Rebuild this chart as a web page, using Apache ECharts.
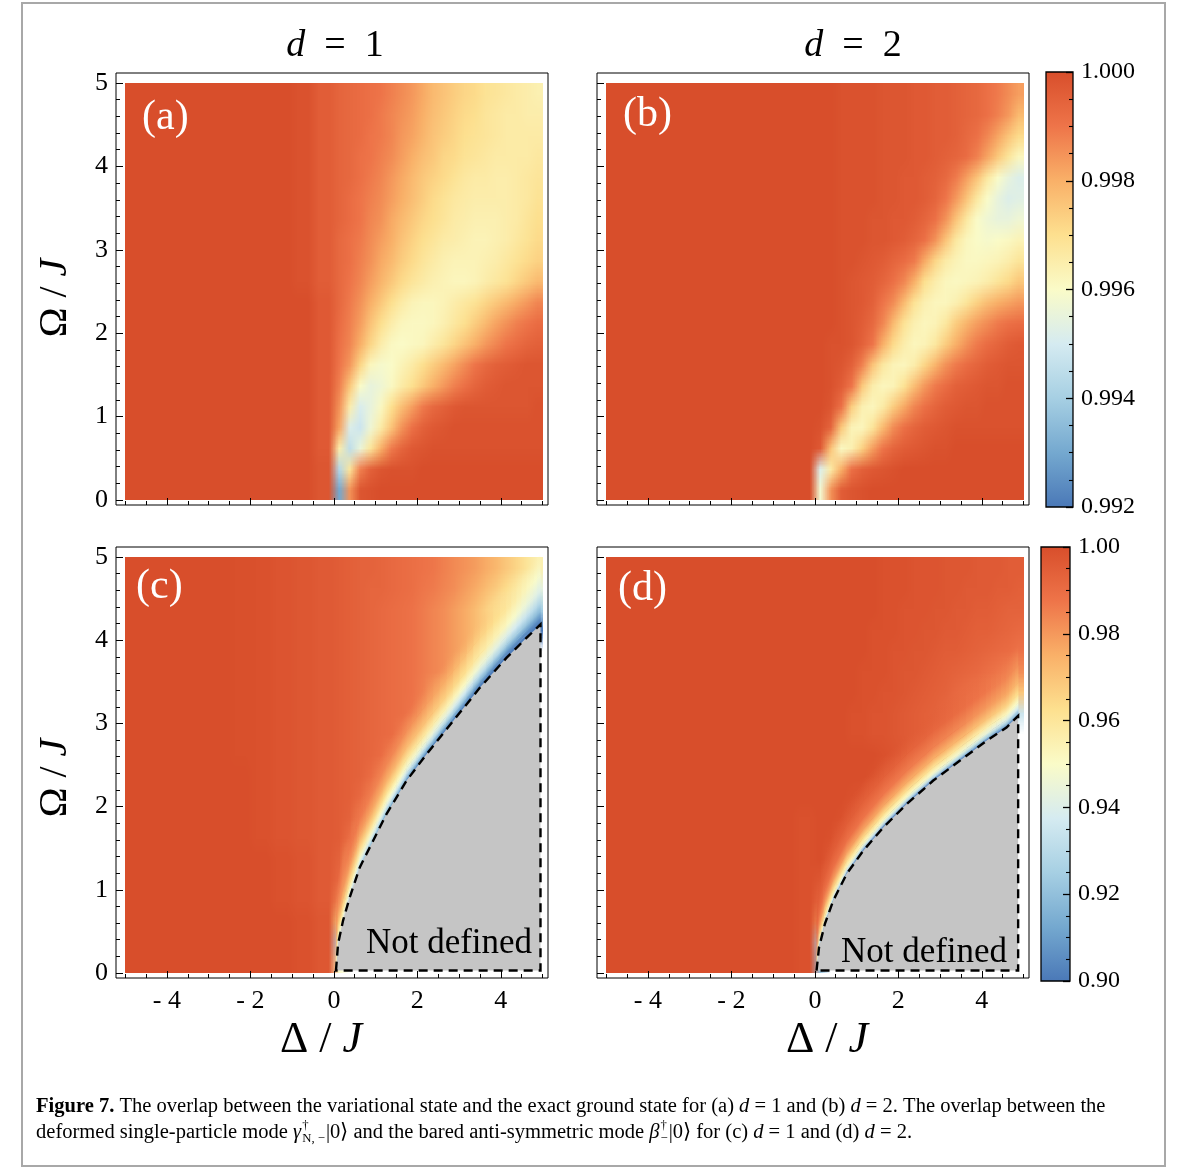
<!DOCTYPE html>
<html>
<head>
<meta charset="utf-8">
<script src="https://cdn.jsdelivr.net/npm/echarts@6/dist/echarts.min.js"></script>
<style>
html,body{margin:0;padding:0;background:#fff;}
#chart{width:1182px;height:1169px;}
</style>
</head>
<body>
<div id="chart"></div>
<script>
// ---------------- data ----------------
const xRange = [-5.22, 5.13];
const yRange = [-0.06, 5.12];
const xMajorTicks = [-4, -2, 0, 2, 4];
const xMinorTicks = [-5, -4.5, -3.5, -3, -2.5, -1.5, -1, -0.5, 0.5, 1, 1.5, 2.5, 3, 3.5, 4.5, 5];
const yMajorTicks = [0, 1, 2, 3, 4, 5];
const yMinorTicks = [0.2, 0.4, 0.6, 0.8, 1.2, 1.4, 1.6, 1.8, 2.2, 2.4, 2.6, 2.8, 3.2, 3.4, 3.6, 3.8, 4.2, 4.4, 4.6, 4.8];
const barTopRange = [0.992, 1.0];
const barTopMajor = [0.992, 0.994, 0.996, 0.998, 1.0];
const barTopMinor = [0.9925, 0.993, 0.9935, 0.9945, 0.995, 0.9955, 0.9965, 0.997, 0.9975, 0.9985, 0.999, 0.9995];
const barBotRange = [0.90, 1.0];
const barBotMajor = [0.90, 0.92, 0.94, 0.96, 0.98, 1.0];
const barBotMinor = [0.905, 0.91, 0.915, 0.925, 0.93, 0.935, 0.945, 0.95, 0.955, 0.965, 0.97, 0.975, 0.985, 0.99, 0.995];

// cell edges: Delta/J (left to right), Omega/J (top to bottom)
const deltaEdges = [-5, -4.5, -4, -3.5, -3, -2.5, -2, -1.5, -1, -0.5, 0, 0.25, 0.5, 0.75, 1, 1.25, 1.5, 1.75, 2, 2.25, 2.5, 2.75, 3, 3.25, 3.5, 3.75, 4, 4.25, 4.5, 4.75, 5];
const omegaEdges = [5, 4.75, 4.5, 4.25, 4, 3.75, 3.5, 3.25, 3, 2.75, 2.5, 2.25, 2, 1.75, 1.5, 1.25, 1, 0.75, 0.5, 0.25, 0];

// (a) overlap, d = 1  (rows top -> bottom)
const overlapA = [
[1,1,1,1,1,1,1,1,.9999,.9996, .9994,.9993,.9992,.9991,.999,.9988,.9986,.9984,.9981,.9978,.9976,.9974,.9972,.9971,.9969,.9968,.9967,.9966,.9965,.9964],
[1,1,1,1,1,1,1,1,.9999,.9996, .9994,.9993,.9992,.9991,.9989,.9987,.9985,.9983,.998,.9977,.9975,.9973,.9971,.997,.9968,.9967,.9966,.9966,.9965,.9965],
[1,1,1,1,1,1,1,1,.9999,.9996, .9994,.9993,.9992,.999,.9989,.9987,.9984,.9982,.9979,.9976,.9974,.9972,.997,.9969,.9968,.9967,.9966,.9966,.9966,.9966],
[1,1,1,1,1,1,1,1,.9999,.9996, .9994,.9993,.9991,.999,.9988,.9986,.9983,.998,.9977,.9975,.9972,.9971,.9969,.9968,.9967,.9966,.9966,.9966,.9966,.9967],
[1,1,1,1,1,1,1,1,.9999,.9996, .9994,.9993,.9991,.9989,.9987,.9984,.9981,.9978,.9975,.9973,.9971,.9969,.9967,.9966,.9966,.9965,.9965,.9966,.9967,.9968],
[1,1,1,1,1,1,1,1,.9999,.9996, .9994,.9992,.999,.9988,.9986,.9983,.998,.9977,.9974,.9971,.9969,.9967,.9966,.9965,.9965,.9965,.9965,.9966,.9967,.9969],
[1,1,1,1,1,1,1,1,.9999,.9996, .9994,.9992,.999,.9987,.9985,.9981,.9978,.9975,.9972,.997,.9968,.9966,.9965,.9964,.9964,.9964,.9965,.9966,.9968,.997],
[1,1,1,1,1,1,1,1,.9999,.9996, .9993,.9991,.9989,.9986,.9983,.998,.9976,.9973,.997,.9968,.9966,.9965,.9964,.9963,.9963,.9964,.9965,.9967,.9969,.9971],
[1,1,1,1,1,1,1,1,.9999,.9996, .9993,.9991,.9988,.9985,.9981,.9978,.9974,.9971,.9968,.9966,.9964,.9963,.9963,.9963,.9964,.9965,.9967,.9969,.9971,.9973],
[1,1,1,1,1,1,1,1,.9999,.9996, .9993,.999,.9987,.9983,.9979,.9975,.9971,.9968,.9966,.9964,.9963,.9962,.9962,.9963,.9965,.9967,.9969,.9972,.9975,.9978],
[1,1,1,1,1,1,1,1,1,.9997, .9993,.9989,.9985,.998,.9975,.997,.9966,.9963,.9962,.9962,.9963,.9965,.9967,.9969,.9972,.9975,.9978,.9981,.9984,.9987],
[1,1,1,1,1,1,1,1,1,.9997, .9992,.9988,.9983,.9976,.997,.9965,.9962,.9961,.9961,.9962,.9964,.9967,.997,.9974,.9978,.9982,.9985,.9988,.999,.9992],
[1,1,1,1,1,1,1,1,1,.9997, .9991,.9987,.998,.9972,.9965,.9961,.996,.9961,.9962,.9965,.9968,.9972,.9976,.998,.9984,.9987,.999,.9992,.9994,.9995],
[1,1,1,1,1,1,1,1,1,.9997, .999,.9984,.9972,.9962,.9959,.996,.9963,.9966,.997,.9974,.9978,.9982,.9986,.999,.9993,.9995,.9996,.9997,.9998,.9998],
[1,1,1,1,1,1,1,1,1,.9997, .9988,.9975,.996,.9955,.9957,.9961,.9966,.997,.9975,.998,.9984,.9988,.9991,.9994,.9996,.9997,.9998,.9998,.9998,.9998],
[1,1,1,1,1,1,1,1,1,.9997, .9985,.9965,.9951,.9955,.9961,.997,.9977,.9983,.9989,.9993,.9995,.9997,.9998,.9998,.9998,.9998,.9998,.9998,.9998,.9999],
[1,1,1,1,1,1,1,1,1,.9997, .9982,.9952,.9948,.9957,.9966,.9976,.9985,.9991,.9995,.9997,.9998,.9999,.9999,.9999,.9999,.9999,.9999,.9999,.9999,.9999],
[1,1,1,1,1,1,1,1,1,.9997, .9965,.9945,.9956,.9968,.998,.9989,.9994,.9997,.9998,.9999,.9999,.9999,.9999,.9999,.9999,.9999,.9999,.9999,.9999,.9999],
[1,1,1,1,1,1,1,1,1,.9998, .9943,.9968,.9988,.9995,.9998,.9999,.9999,.9999,1,1,1,1,1,1,1,1,1,1,1,1],
[1,1,1,1,1,1,1,1,1,.9998, .993,.9985,.9998,.9999,1,1,1,1,1,1,1,1,1,1,1,1,1,1,1,1]
];

// (b) overlap, d = 2
const overlapB = [
[1,1,1,1,1,1,1,1,1,1, 1,1,.9999,.9999,.9999,.9999,.9998,.9998,.9998,.9997,.9997,.9996,.9996,.9995,.9994,.9993,.9991,.9989,.9986,.9983],
[1,1,1,1,1,1,1,1,1,1, 1,1,.9999,.9999,.9999,.9999,.9998,.9998,.9998,.9997,.9997,.9996,.9996,.9995,.9994,.9993,.9991,.9988,.9984,.9978],
[1,1,1,1,1,1,1,1,1,1, 1,1,.9999,.9999,.9999,.9999,.9998,.9998,.9998,.9997,.9997,.9996,.9996,.9995,.9993,.9991,.9987,.9982,.9976,.9971],
[1,1,1,1,1,1,1,1,1,1, 1,1,.9999,.9999,.9999,.9999,.9998,.9998,.9998,.9997,.9997,.9996,.9995,.9994,.9992,.9988,.9982,.9975,.9968,.9962],
[1,1,1,1,1,1,1,1,1,1, 1,1,.9999,.9999,.9999,.9999,.9998,.9998,.9997,.9997,.9996,.9995,.9993,.9989,.9983,.9976,.9967,.996,.9955,.9952],
[1,1,1,1,1,1,1,1,1,1, 1,1,.9999,.9999,.9999,.9999,.9998,.9998,.9997,.9997,.9996,.9994,.999,.9984,.9976,.9967,.996,.9955,.9952,.9953],
[1,1,1,1,1,1,1,1,1,1, 1,1,.9999,.9999,.9999,.9998,.9998,.9997,.9997,.9996,.9994,.9991,.9985,.9976,.9967,.996,.9957,.9955,.9955,.9957],
[1,1,1,1,1,1,1,1,1,1, 1,1,.9999,.9999,.9999,.9998,.9998,.9997,.9996,.9994,.9991,.9985,.9976,.9967,.9962,.996,.9959,.996,.9961,.9963],
[1,1,1,1,1,1,1,1,1,1, 1,1,.9999,.9999,.9998,.9997,.9996,.9994,.9992,.9989,.9981,.9972,.9966,.9963,.9961,.9961,.9962,.9963,.9965,.9968],
[1,1,1,1,1,1,1,1,1,1, 1,1,.9999,.9998,.9997,.9996,.9994,.9991,.9987,.998,.997,.9965,.9962,.9961,.9962,.9963,.9965,.9968,.9971,.9975],
[1,1,1,1,1,1,1,1,1,1, 1,1,.9999,.9998,.9997,.9995,.999,.9986,.9978,.9969,.9964,.9962,.9962,.9964,.9968,.9973,.9977,.998,.9982,.9984],
[1,1,1,1,1,1,1,1,1,1, 1,1,.9999,.9998,.9996,.9993,.9987,.9978,.9969,.9964,.9962,.9963,.9967,.9974,.9979,.9983,.9986,.9989,.9991,.9992],
[1,1,1,1,1,1,1,1,1,1, 1,.9999,.9999,.9998,.9995,.999,.998,.9971,.9965,.9962,.9963,.9967,.9974,.998,.9985,.9989,.9992,.9994,.9996,.9997],
[1,1,1,1,1,1,1,1,1,1, 1,.9999,.9998,.9995,.9988,.9976,.9967,.9963,.9962,.9965,.9972,.9979,.9985,.9989,.9992,.9994,.9996,.9997,.9998,.9998],
[1,1,1,1,1,1,1,1,1,1, 1,.9999,.9996,.999,.9975,.9965,.9962,.9963,.9969,.9977,.9984,.9989,.9992,.9995,.9996,.9997,.9998,.9998,.9999,.9999],
[1,1,1,1,1,1,1,1,1,1, 1,.9998,.9991,.9974,.9964,.9962,.9966,.9974,.9981,.9987,.9991,.9994,.9996,.9997,.9998,.9998,.9999,.9999,.9999,.9999],
[1,1,1,1,1,1,1,1,1,1, .9999,.9994,.9975,.9963,.9962,.9968,.9978,.9986,.9991,.9994,.9996,.9997,.9998,.9999,.9999,.9999,.9999,.9999,.9999,.9999],
[1,1,1,1,1,1,1,1,1,1, .9997,.9976,.9961,.9964,.9973,.9983,.999,.9994,.9996,.9997,.9998,.9999,.9999,1,1,1,1,1,1,1],
[1,1,1,1,1,1,1,1,1,1, .9952,.9966,.998,.9991,.9995,.9997,.9998,.9999,1,1,1,1,1,1,1,1,1,1,1,1],
[1,1,1,1,1,1,1,1,1,1, .9958,.9985,.9996,.9998,.9999,1,1,1,1,1,1,1,1,1,1,1,1,1,1,1]
];

// (c) overlap, d = 1 (each row stops where the "Not defined" region begins)
const overlapC = [
[1,1,1,1,1,.9995,.999,.998,.997,.996, .995,.994,.993,.993,.992,.991,.99,.989,.988,.987,.985,.983,.981,.979,.976,.973,.969,.965,.96,.955],
[1,1,1,1,1,.9995,.999,.998,.997,.996, .995,.994,.993,.992,.992,.991,.99,.989,.987,.986,.984,.982,.979,.976,.972,.968,.963,.957,.95,.943],
[1,1,1,1,1,.9995,.999,.998,.997,.996, .995,.994,.993,.992,.991,.99,.989,.988,.986,.984,.982,.979,.976,.972,.967,.961,.954,.946,.936,.925],
[1,1,1,1,1,.9995,.999,.998,.997,.996, .995,.994,.993,.992,.991,.99,.989,.988,.986,.984,.982,.979,.976,.972,.967,.961,.954,.941,.914,.90],
[1,1,1,1,1,.9995,.999,.998,.997,.996, .995,.994,.993,.992,.991,.99,.989,.988,.986,.984,.982,.979,.976,.972,.961,.944,.912,.90],
[1,1,1,1,1,.9995,.999,.998,.997,.996, .995,.994,.993,.992,.991,.99,.989,.988,.986,.984,.982,.977,.965,.95,.923,.90],
[1,1,1,1,1,.9995,.999,.998,.997,.996, .995,.994,.993,.992,.991,.99,.989,.988,.985,.979,.9725,.956,.935,.903,.90],
[1,1,1,1,1,.9995,.999,.998,.997,.996, .995,.994,.993,.992,.991,.99,.989,.987,.982,.974,.96,.933,.90],
[1,1,1,1,1,.9995,.999,.998,.997,.996, .995,.994,.993,.992,.991,.99,.986,.978,.966,.945,.90,.90],
[1,1,1,1,1,.9995,.999,.998,.997,.996, .995,.994,.993,.992,.99,.985,.975,.957,.918,.90],
[1,1,1,1,1,1,.999,.998,.997,.996, .995,.994,.993,.99,.984,.971,.948,.90,.90],
[1,1,1,1,1,1,.999,.998,.997,.996, .995,.994,.991,.985,.97,.944,.91],
[1,1,1,1,1,1,.999,.998,.997,.996, .995,.993,.985,.97,.941,.91],
[1,1,1,1,1,1,.999,.998,.997,.996, .995,.989,.97,.941,.91],
[1,1,1,1,1,1,1,.999,.998,.996, .993,.979,.941,.91],
[1,1,1,1,1,1,1,.999,.998,.996, .991,.969,.93],
[1,1,1,1,1,1,1,.999,.998,.996, .984,.93],
[1,1,1,1,1,1,1,1,.999,.997, .968],
[1,1,1,1,1,1,1,1,.999,.997, .93],
[1,1,1,1,1,1,1,1,.999,.997, .95]
];

// (d) overlap, d = 2
const overlapD = [
[1,1,1,1,1,1,1,1,1,1, 1,1,1,1,1,1,.999,.999,.999,.998,.998,.998,.997,.997,.997,.996,.996,.996,.995,.995],
[1,1,1,1,1,1,1,1,1,1, 1,1,1,1,1,1,.999,.999,.999,.998,.998,.998,.997,.997,.996,.996,.996,.995,.995,.994],
[1,1,1,1,1,1,1,1,1,1, 1,1,1,1,1,1,.999,.999,.998,.998,.998,.997,.997,.996,.996,.995,.995,.994,.993,.993],
[1,1,1,1,1,1,1,1,1,1, 1,1,1,1,1,.999,.999,.999,.998,.998,.997,.997,.996,.996,.995,.994,.994,.993,.992,.991],
[1,1,1,1,1,1,1,1,1,1, 1,1,1,1,1,.999,.999,.998,.998,.997,.997,.996,.995,.995,.994,.993,.992,.991,.99,.988],
[1,1,1,1,1,1,1,1,1,1, 1,1,1,1,.999,.999,.999,.998,.997,.997,.996,.995,.994,.993,.992,.991,.989,.987,.985,.982],
[1,1,1,1,1,1,1,1,1,1, 1,1,1,1,.999,.999,.998,.998,.997,.996,.995,.994,.993,.991,.989,.987,.984,.98,.975,.969],
[1,1,1,1,1,1,1,1,1,1, 1,1,1,.999,.999,.998,.998,.997,.996,.995,.994,.993,.991,.989,.986,.982,.976,.968,.955,.935],
[1,1,1,1,1,1,1,1,1,1, 1,1,1,.999,.999,.998,.998,.997,.996,.995,.994,.993,.991,.988,.982,.9715,.954,.90,.90],
[1,1,1,1,1,1,1,1,1,1, 1,1,1,1,1,1,.999,.998,.997,.994,.9905,.985,.976,.959,.917,.90,.90],
[1,1,1,1,1,1,1,1,1,1, 1,1,1,1,1,.999,.997,.994,.989,.982,.968,.941,.90,.90,.90],
[1,1,1,1,1,1,1,1,1,1, 1,1,1,.999,.998,.994,.989,.981,.963,.917,.90,.90],
[1,1,1,1,1,1,1,1,1,.999, 1,1,.999,.996,.991,.983,.964,.908,.90,.90],
[1,1,1,1,1,1,1,1,1,.999, 1,.999,.995,.988,.973,.93,.90,.90],
[1,1,1,1,1,1,1,1,1,.999, 1,.996,.986,.958,.90,.90],
[1,1,1,1,1,1,1,1,1,.999, .997,.986,.952,.92],
[1,1,1,1,1,1,1,1,1,.999, .992,.957,.92],
[1,1,1,1,1,1,1,1,1,.999, .981,.92],
[1,1,1,1,1,1,1,1,1,.999, .927],
[1,1,1,1,1,1,1,1,1,.999, .92]
];

// boundary of the "Not defined" region [Delta/J, Omega/J]
const boundaryC = [[0.05,0.03],[0.1,0.35],[0.22,0.63],[0.38,0.91],[0.62,1.27],[0.94,1.59],[1.26,1.91],[1.74,2.31],[2.22,2.63],[2.86,3.03],[3.5,3.43],[4.14,3.79],[4.62,4.03],[4.95,4.19]];
const cornerC = [4.95, 0.03];
const boundaryD = [[0.04,0.03],[0.1,0.31],[0.24,0.59],[0.44,0.87],[0.76,1.19],[1.16,1.47],[1.64,1.75],[2.2,2.03],[2.83,2.31],[3.47,2.55],[4.11,2.79],[4.59,2.95],[4.87,3.09]];
const cornerD = [4.87, 0.03];

// overlap just above the boundary: height above the boundary (Omega/J) ...
const bandOffsets = [0, 0.04, 0.09, 0.16, 0.26, 0.4, 0.6, 0.85];
// ... and the overlap read there, one row per boundary point
const bandC = [
[.95,.955,.96,.966,.972,.978,.982,.984],
[.94,.948,.955,.963,.972,.98,.986,.99],
[.935,.945,.953,.962,.972,.98,.985,.988],
[.93,.94,.95,.96,.97,.981,.987,.991],
[.925,.935,.946,.957,.968,.979,.987,.991],
[.915,.93,.942,.954,.966,.977,.985,.99],
[.91,.925,.94,.951,.963,.975,.984,.988],
[.905,.92,.935,.948,.96,.972,.982,.987],
[.90,.915,.932,.946,.958,.97,.979,.984],
[.90,.91,.925,.94,.953,.965,.974,.979],
[.90,.905,.918,.932,.946,.958,.966,.971],
[.90,.903,.912,.926,.94,.952,.96,.965],
[.90,.902,.91,.922,.934,.945,.953,.958],
[.90,.902,.908,.918,.928,.94,.948,.953]
];
const bandD = [
[.93,.95,.962,.972,.983,.99,.995,.998],
[.92,.945,.958,.969,.981,.99,.995,.998],
[.915,.94,.956,.967,.98,.989,.995,.998],
[.91,.937,.955,.966,.98,.989,.995,.998],
[.905,.935,.953,.965,.979,.989,.995,.998],
[.90,.933,.952,.964,.978,.988,.994,.997],
[.90,.932,.951,.963,.977,.987,.994,.997],
[.90,.93,.95,.962,.976,.986,.993,.996],
[.90,.93,.949,.961,.975,.985,.992,.995],
[.90,.928,.947,.959,.973,.983,.99,.993],
[.90,.925,.944,.956,.97,.98,.987,.991],
[.90,.922,.94,.952,.966,.977,.984,.988],
[.90,.92,.937,.949,.962,.973,.981,.985]
];

// ---------------- styling ----------------
const cmapColors = ['#4a78b7','#74a8cf','#a6cfe3','#d5ebf1','#fafbc8','#fde08f','#f9b068','#ee7449','#d84e2b'];
const FONT = 'Liberation Serif';
const INK = '#000';

function colorOf(v, range) {
  const t = Math.max(0, Math.min(1, (v - range[0]) / (range[1] - range[0])));
  return echarts.color.lerp(t, cmapColors);
}

function toCells(vals) {
  const out = [];
  for (let r = 0; r < vals.length; r++) {
    for (let c = 0; c < vals[r].length; c++) {
      const v = vals[r][c];
      if (v === null || v === undefined) continue;
      out.push([deltaEdges[c], deltaEdges[c + 1], omegaEdges[r + 1], omegaEdges[r], v]);
    }
  }
  return out;
}

// Density-plot style rendering: one source pixel per finest grid step; the
// browser's image smoothing shades between the sampled cells (as a DensityPlot does).
function fieldCanvas(vals, range) {
  const step = 0.25;
  const x0 = deltaEdges[0];
  const W = Math.round((deltaEdges[deltaEdges.length - 1] - x0) / step);
  const H = omegaEdges.length - 1;
  const cw = W + 2, ch = H + 2;
  const cv = document.createElement('canvas');
  cv.width = cw; cv.height = ch;
  const ctx = cv.getContext('2d');
  const img = ctx.createImageData(cw, ch);
  const d = img.data;
  const put = (px, py, c) => { const k = 4 * (py * cw + px); d[k] = c[0]; d[k + 1] = c[1]; d[k + 2] = c[2]; d[k + 3] = 255; };
  const copy = (sx, sy, tx, ty) => { const a = 4 * (sy * cw + sx), b = 4 * (ty * cw + tx); for (let j = 0; j < 4; j++) d[b + j] = d[a + j]; };
  for (let r = 0; r < H; r++) {
    for (let c = 0; c < deltaEdges.length - 1; c++) {
      const v = vals[r][c];
      if (v === null || v === undefined) continue;          // not defined: left transparent
      const col = echarts.color.parse(colorOf(v, range));
      const p0 = Math.round((deltaEdges[c] - x0) / step), p1 = Math.round((deltaEdges[c + 1] - x0) / step);
      for (let p = p0; p < p1; p++) put(p + 1, r + 1, col);
    }
  }
  for (let py = 1; py <= H; py++) { copy(1, py, 0, py); copy(W, py, W + 1, py); }
  for (let px = 0; px < cw; px++) { copy(px, 1, px, 0); copy(px, H, px, H + 1); }
  ctx.putImageData(img, 0, 0);
  return { canvas: cv, W: W, H: H };
}

function fieldRenderer(vals, range) {
  const f = fieldCanvas(vals, range);
  return function (params, api) {
    if (params.dataIndex !== 0) return;
    const tl = api.coord([deltaEdges[0], omegaEdges[0]]);
    const br = api.coord([deltaEdges[deltaEdges.length - 1], omegaEdges[omegaEdges.length - 1]]);
    return {
      type: 'image',
      style: { image: f.canvas, x: tl[0], y: tl[1], width: br[0] - tl[0], height: br[1] - tl[1], sx: 1, sy: 1, sWidth: f.W, sHeight: f.H }
    };
  };
}

// strip of low overlap hugging the boundary, one item per boundary segment;
// each piece is shaded across its width (perpendicular to the boundary segment)
const SUB = 4;
function bandRenderer(curve, band, range) {
  return function (params, api) {
    const i = params.dataIndex;
    if (i >= curve.length - 1) return;
    const kids = [];
    const last = bandOffsets.length - 2;
    const P = s => [curve[i][0] + s * (curve[i + 1][0] - curve[i][0]), curve[i][1] + s * (curve[i + 1][1] - curve[i][1])];
    const V = (s, j) => band[i][j] + s * (band[i + 1][j] - band[i][j]);
    for (let k = 0; k < SUB; k++) {
      const s0 = k / SUB, s1 = (k + 1) / SUB, sm = (s0 + s1) / 2;
      const q0 = P(s0), q1 = P(s1);
      for (let j = 0; j <= last; j++) {
        const a0 = api.coord([q0[0], q0[1] + bandOffsets[j]]);
        const b0 = api.coord([q1[0], q1[1] + bandOffsets[j]]);
        const b1 = api.coord([q1[0], q1[1] + bandOffsets[j + 1]]);
        const a1 = api.coord([q0[0], q0[1] + bandOffsets[j + 1]]);
        const cIn = colorOf(V(sm, j), range);
        let cOut = colorOf(V(sm, j + 1), range);
        if (j === last) cOut = echarts.color.modifyAlpha(cOut, 0);
        const ex = b0[0] - a0[0], ey = b0[1] - a0[1];
        const el = Math.hypot(ex, ey) || 1;
        const ux = ex / el, uy = ey / el;
        const vx = a1[0] - a0[0], vy = a1[1] - a0[1];
        const dot = vx * ux + vy * uy;
        const gx = vx - dot * ux, gy = vy - dot * uy;
        const g = new echarts.graphic.LinearGradient(
          a0[0], a0[1], a0[0] + gx, a0[1] + gy,
          [{ offset: 0, color: cIn }, { offset: 1, color: cOut }], true);
        const pad = j === last ? 0 : 0.3;
        kids.push({
          type: 'polygon',
          shape: { points: [[a0[0] - pad * ux, a0[1] - pad * uy], [b0[0] + pad * ux, b0[1] + pad * uy], [b1[0] + pad * ux, b1[1] + pad * uy], [a1[0] - pad * ux, a1[1] - pad * uy]] },
          style: { fill: g }
        });
      }
    }
    return { type: 'group', children: kids };
  };
}

function polyRenderer(curve, corner) {
  return function (params, api) {
    if (params.dataIndex !== 0) return;
    const pts = curve.concat([corner, [curve[0][0], corner[1]]]).map(p => api.coord(p));
    return {
      type: 'polygon',
      shape: { points: pts },
      style: { fill: '#c5c5c5', stroke: '#000', lineWidth: 2.4, lineDash: [9, 6] }
    };
  };
}

function barRenderer(params, api) {
  const p0 = api.coord([0, api.value(1)]);
  const p1 = api.coord([1, api.value(0)]);
  const stops = cmapColors.map((c, i) => ({ offset: i / (cmapColors.length - 1), color: c }));
  return {
    type: 'rect',
    shape: { x: p0[0], y: p0[1], width: p1[0] - p0[0], height: p1[1] - p0[1] },
    style: { fill: new echarts.graphic.LinearGradient(0, 1, 0, 0, stops), stroke: '#000', lineWidth: 1.3 }
  };
}

const panelGrids = [
  { left: 116, top: 73, width: 432, height: 432 },
  { left: 597, top: 73, width: 432, height: 432 },
  { left: 116, top: 547, width: 432, height: 431 },
  { left: 597, top: 547, width: 432, height: 431 }
];

const grids = panelGrids.map(g => Object.assign({}, g, {
  show: true, borderColor: '#000', borderWidth: 1, backgroundColor: 'transparent',
  containLabel: false, outerBoundsMode: 'none'
}));
grids.push({ left: 1046, top: 72, width: 27, height: 435, show: false, containLabel: false, outerBoundsMode: 'none' });
grids.push({ left: 1041, top: 547, width: 29, height: 434, show: false, containLabel: false, outerBoundsMode: 'none' });

function fmtX(v) { return v < 0 ? '- ' + Math.abs(v) : String(v); }
const tickLine = { color: INK, width: 1 };
const xAxes = [], yAxes = [];
panelGrids.forEach((g, i) => {
  const showX = i >= 2, showY = i % 2 === 0;
  xAxes.push({
    gridIndex: i, type: 'value', min: xRange[0], max: xRange[1], position: 'bottom', z: 6,
    axisLine: { show: false, onZero: false }, splitLine: { show: false },
    axisTick: { show: true, inside: true, length: 7, customValues: xMajorTicks, lineStyle: tickLine },
    axisLabel: { show: showX, customValues: xMajorTicks, formatter: fmtX, fontSize: 26, fontFamily: FONT, color: INK, margin: 10 }
  });
  xAxes.push({
    gridIndex: i, type: 'value', min: xRange[0], max: xRange[1], position: 'bottom', z: 6,
    axisLine: { show: false, onZero: false }, splitLine: { show: false },
    axisTick: { show: true, inside: true, length: 4, customValues: xMinorTicks, lineStyle: tickLine },
    axisLabel: { show: false }
  });
  yAxes.push({
    gridIndex: i, type: 'value', min: yRange[0], max: yRange[1], position: 'left', z: 6,
    axisLine: { show: false, onZero: false }, splitLine: { show: false },
    axisTick: { show: true, inside: true, length: 7, customValues: yMajorTicks, lineStyle: tickLine },
    axisLabel: { show: showY, customValues: yMajorTicks, fontSize: 26, fontFamily: FONT, color: INK, margin: 8 }
  });
  yAxes.push({
    gridIndex: i, type: 'value', min: yRange[0], max: yRange[1], position: 'left', z: 6,
    axisLine: { show: false, onZero: false }, splitLine: { show: false },
    axisTick: { show: true, inside: true, length: 4, customValues: yMinorTicks, lineStyle: tickLine },
    axisLabel: { show: false }
  });
});
// colour bar axes
[[4, barTopRange, barTopMajor, barTopMinor, 3], [5, barBotRange, barBotMajor, barBotMinor, 2]].forEach(b => {
  const [gi, rng, major, minor, dec] = b;
  xAxes.push({ gridIndex: gi, type: 'value', min: 0, max: 1, show: false });
  yAxes.push({
    gridIndex: gi, type: 'value', min: rng[0], max: rng[1], position: 'right', z: 6,
    axisLine: { show: false, onZero: false }, splitLine: { show: false },
    axisTick: { show: true, inside: true, length: 7, customValues: major, lineStyle: { color: INK, width: 1.3 } },
    axisLabel: { show: true, customValues: major, formatter: v => v.toFixed(dec), fontSize: 24, fontFamily: FONT, color: INK, margin: 8 }
  });
  yAxes.push({
    gridIndex: gi, type: 'value', min: rng[0], max: rng[1], position: 'right', z: 6,
    axisLine: { show: false, onZero: false }, splitLine: { show: false },
    axisTick: { show: true, inside: true, length: 4, customValues: minor, lineStyle: { color: INK, width: 1.1 } },
    axisLabel: { show: false }
  });
});

const series = [];
[[overlapA, barTopRange], [overlapB, barTopRange], [overlapC, barBotRange], [overlapD, barBotRange]].forEach((p, i) => {
  series.push({
    type: 'custom', xAxisIndex: 2 * i, yAxisIndex: 2 * i, renderItem: fieldRenderer(p[0], p[1]),
    data: toCells(p[0]), encode: { x: [0, 1], y: [2, 3] }, silent: true, z: 2
  });
});
series.push({ type: 'custom', xAxisIndex: 4, yAxisIndex: 4, renderItem: bandRenderer(boundaryC, bandC, barBotRange), data: boundaryC, silent: true, z: 3, clip: true });
series.push({ type: 'custom', xAxisIndex: 6, yAxisIndex: 6, renderItem: bandRenderer(boundaryD, bandD, barBotRange), data: boundaryD, silent: true, z: 3, clip: true });
series.push({ type: 'custom', xAxisIndex: 4, yAxisIndex: 4, renderItem: polyRenderer(boundaryC, cornerC), data: boundaryC, silent: true, z: 4 });
series.push({ type: 'custom', xAxisIndex: 6, yAxisIndex: 6, renderItem: polyRenderer(boundaryD, cornerD), data: boundaryD, silent: true, z: 4 });
series.push({ type: 'custom', xAxisIndex: 8, yAxisIndex: 8, renderItem: barRenderer, data: [barTopRange], encode: { y: [0, 1] }, silent: true, z: 1 });
series.push({ type: 'custom', xAxisIndex: 9, yAxisIndex: 10, renderItem: barRenderer, data: [barBotRange], encode: { y: [0, 1] }, silent: true, z: 1 });

// ---------------- text ----------------
const measureCtx = document.createElement('canvas').getContext('2d');
function measure(t, size, w, s) {
  measureCtx.font = (s || 'normal') + ' ' + (w || 'normal') + ' ' + size + 'px "' + FONT + '"';
  return measureCtx.measureText(t).width;
}
function txt(t, x, y, size, opts) {
  opts = opts || {};
  return {
    type: 'text', x: x, y: y, rotation: opts.rotation || 0, z: 20,
    style: {
      text: t, fontSize: size, fontFamily: FONT, fontStyle: opts.italic ? 'italic' : 'normal',
      fontWeight: opts.bold ? 'bold' : 'normal', fill: opts.fill || INK,
      align: opts.align || 'left', verticalAlign: 'middle'
    }
  };
}
function richLabel(t, x, y, size, rotation) {
  return {
    type: 'text', x: x, y: y, rotation: rotation || 0, z: 20,
    style: {
      text: t, align: 'center', verticalAlign: 'middle',
      rich: {
        r: { fontSize: size, fontFamily: FONT, fill: INK },
        i: { fontSize: size, fontFamily: FONT, fontStyle: 'italic', fill: INK }
      }
    }
  };
}

const graphics = [];
graphics.push({ type: 'rect', z: 0, shape: { x: 22, y: 3, width: 1143, height: 1163 }, style: { fill: 'none', stroke: '#a8a8a8', lineWidth: 2 } });
graphics.push(richLabel('{i|d}{r|  =  1}', 335, 46, 38));
graphics.push(richLabel('{i|d}{r|  =  2}', 853, 46, 38));
graphics.push(richLabel('{r|Ω / }{i|J}', 55, 298, 40, Math.PI / 2));
graphics.push(richLabel('{r|Ω / }{i|J}', 55, 778, 40, Math.PI / 2));
graphics.push(richLabel('{r|Δ / }{i|J}', 321, 1040, 44));
graphics.push(richLabel('{r|Δ / }{i|J}', 827, 1040, 44));
graphics.push(txt('(a)', 142, 118, 42, { fill: '#fff' }));
graphics.push(txt('(b)', 623, 115, 42, { fill: '#fff' }));
graphics.push(txt('(c)', 136, 587, 42, { fill: '#fff' }));
graphics.push(txt('(d)', 618, 589, 42, { fill: '#fff' }));
graphics.push(txt('Not defined', 449, 944, 35, { align: 'center' }));
graphics.push(txt('Not defined', 924, 953, 35, { align: 'center' }));

// caption
const capRuns1 = [
  { t: 'Figure 7.', b: 1 },
  { t: ' The overlap between the variational state and the exact ground state for (a) ' },
  { t: 'd', i: 1 }, { t: ' = 1 and (b) ' }, { t: 'd', i: 1 }, { t: ' = 2. The overlap between the' }
];
const capRuns2 = [
  { t: 'deformed single-particle mode ' }, { t: 'γ', i: 1 }, { sup: '†', sub: 'N, −' },
  { t: '|0⟩ and the bared anti-symmetric mode ' }, { t: 'β', i: 1 }, { sup: '†', sub: '−' },
  { t: '|0⟩ for (c) ' }, { t: 'd', i: 1 }, { t: ' = 1 and (d) ' }, { t: 'd', i: 1 }, { t: ' = 2.' }
];
function runWidth(runs, size) {
  let w = 0;
  runs.forEach(r => {
    if (r.sup !== undefined) { w += Math.max(measure(r.sup, size * 0.62), measure(r.sub, size * 0.62)) + 2; }
    else w += measure(r.t, size, r.b ? 'bold' : 'normal', r.i ? 'italic' : 'normal');
  });
  return w;
}
let capSize = 18;
capSize = capSize * 1070 / runWidth(capRuns1, capSize);
function layoutRuns(runs, x0, yMid, size) {
  let x = x0;
  runs.forEach(r => {
    if (r.sup !== undefined) {
      const s = size * 0.62;
      graphics.push(txt(r.sup, x + 1, yMid - size * 0.36, s));
      graphics.push(txt(r.sub, x + 1, yMid + size * 0.3, s));
      x += Math.max(measure(r.sup, s), measure(r.sub, s)) + 2;
    } else {
      graphics.push(txt(r.t, x, yMid, size, { bold: r.b, italic: r.i }));
      x += measure(r.t, size, r.b ? 'bold' : 'normal', r.i ? 'italic' : 'normal');
    }
  });
}
layoutRuns(capRuns1, 36, 1107, capSize);
layoutRuns(capRuns2, 36, 1133, capSize);

const chart = echarts.init(document.getElementById('chart'), null, { renderer: 'canvas', width: 1182, height: 1169 });
chart.setOption({
  animation: false,
  backgroundColor: '#fff',
  grid: grids,
  xAxis: xAxes,
  yAxis: yAxes,
  series: series,
  graphic: graphics
});
</script>
</body>
</html>
